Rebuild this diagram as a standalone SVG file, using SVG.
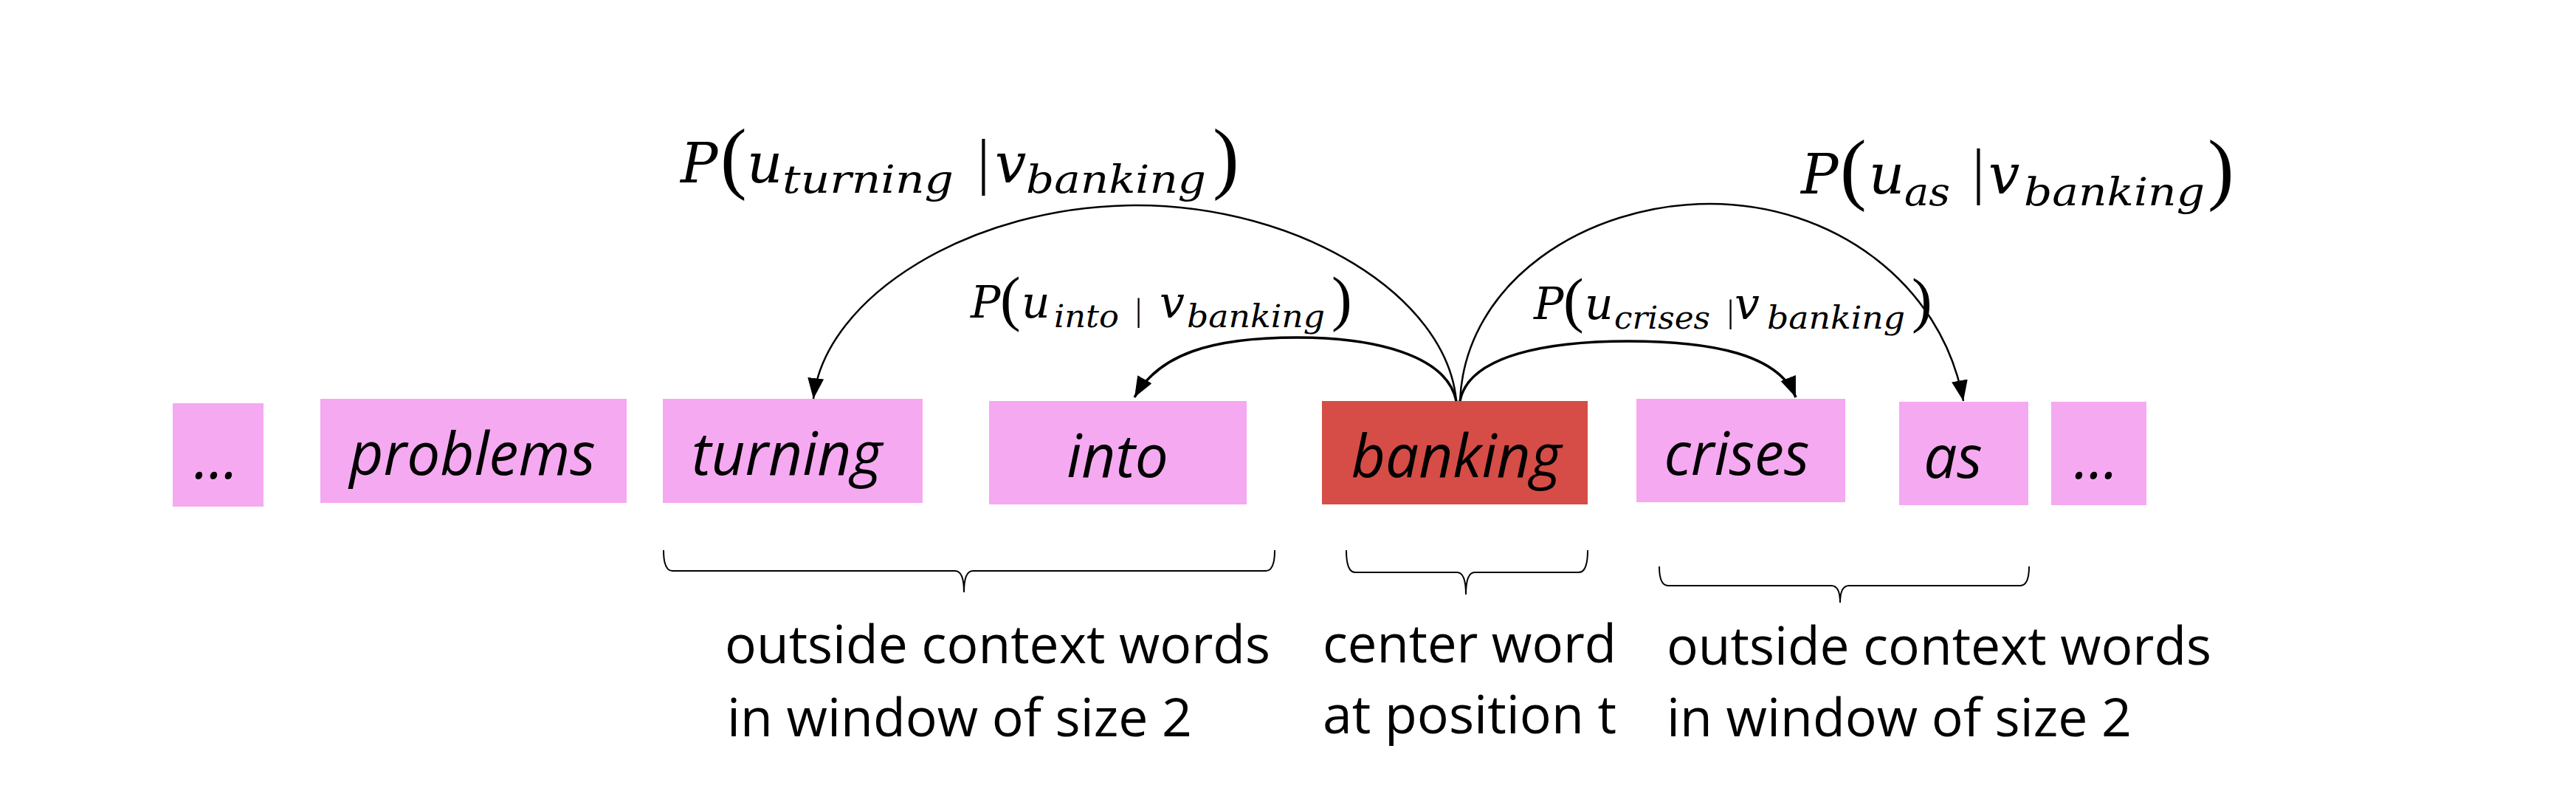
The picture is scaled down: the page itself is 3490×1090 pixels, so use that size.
<svg xmlns="http://www.w3.org/2000/svg" width="3490" height="1090" viewBox="0 0 3490 1090">
<style>
.box{fill:#F5A9F1}
.center{fill:#D54D46}
.w{font-family:"Open Sans","Noto Sans",sans-serif;font-style:italic;font-size:80px;fill:#000;text-anchor:middle}
.t{font-family:"Open Sans","Noto Sans",sans-serif;font-size:71px;fill:#000}
.lab{fill:#000}
.m{font-family:"DejaVu Serif","Liberation Serif",serif;font-style:italic}
.pr{font-family:"Liberation Serif",serif;font-style:normal}
.arc{fill:none;stroke:#000;marker-end:url(#ah)}
.brace{fill:none;stroke:#000;stroke-width:2}
</style>
<defs>
<marker id="ah" markerUnits="userSpaceOnUse" markerWidth="30" markerHeight="24" refX="28" refY="11" orient="auto">
<path d="M0,0 L28,11 L0,22 z" fill="#000"/>
</marker>
</defs>
<rect width="3490" height="1090" fill="#fff"/>

<g id="node-dots-left"><rect class="box" x="234" y="546" width="123" height="140"/><text class="w" x="293" y="648">...</text></g>
<g id="node-problems"><rect class="box" x="434" y="540" width="415" height="141"/><text class="w" x="640" y="643">problems</text></g>
<g id="node-turning"><rect class="box" x="898" y="540" width="352" height="141"/><text class="w" x="1066" y="643">turning</text></g>
<g id="node-into"><rect class="box" x="1340" y="543" width="349" height="140"/><text class="w" x="1514" y="646">into</text></g>
<g id="node-banking"><rect class="center" x="1791" y="543" width="360" height="140"/><text class="w" x="1973" y="646">banking</text></g>
<g id="node-crises"><rect class="box" x="2217" y="540" width="283" height="140"/><text class="w" x="2353" y="643">crises</text></g>
<g id="node-as"><rect class="box" x="2573" y="544" width="175" height="140"/><text class="w" x="2646" y="647">as</text></g>
<g id="node-dots-right"><rect class="box" x="2779" y="544" width="129" height="140"/><text class="w" x="2840" y="648">...</text></g>

<g id="connectors">
<path class="arc" stroke-width="2.5" d="M1973,543 C1960,400 1760,278 1539,278 C1318,278 1118,400 1102,540"/>
<path class="arc" stroke-width="3.5" d="M1973,543 C1960,480 1860,457 1757,457 C1640,457 1570,480 1537,538"/>
<path class="arc" stroke-width="3.5" d="M1978,543 C1990,480 2100,462 2206,462 C2320,462 2410,480 2433,538"/>
<path class="arc" stroke-width="2.5" d="M1978,543 C1985,380 2150,276 2317,276 C2480,276 2630,380 2660,543"/>
</g>

<g id="label-turning">
<text class="lab"><tspan class="m" x="922" y="247" font-size="75">P</tspan><tspan class="pr" x="976" y="249" font-size="107">(</tspan><tspan class="m" x="1012" y="247" font-size="75">u</tspan><tspan class="m" x="1060" y="261" font-size="53" textLength="232" lengthAdjust="spacingAndGlyphs">turning</tspan><tspan class="pr" x="1324" y="247" font-size="84">|</tspan><tspan class="m" x="1348" y="247" font-size="75">v</tspan><tspan class="m" x="1390" y="261" font-size="53" textLength="244" lengthAdjust="spacingAndGlyphs">banking</tspan><tspan class="pr" x="1643" y="249" font-size="107">)</tspan></text>
</g>

<g id="label-into">
<text class="lab"><tspan class="m" x="1315" y="430" font-size="60">P</tspan><tspan class="pr" x="1355" y="432" font-size="83">(</tspan><tspan class="m" x="1384" y="430" font-size="60">u</tspan><tspan class="m" x="1428" y="443" font-size="42" textLength="88" lengthAdjust="spacingAndGlyphs">into</tspan><tspan class="pr" x="1538" y="435" font-size="45">|</tspan><tspan class="m" x="1571" y="430" font-size="60">v</tspan><tspan class="m" x="1608" y="443" font-size="42" textLength="187" lengthAdjust="spacingAndGlyphs">banking</tspan><tspan class="pr" x="1804" y="432" font-size="83">)</tspan></text>
</g>

<g id="label-crises">
<text class="lab"><tspan class="m" x="2078" y="432" font-size="60">P</tspan><tspan class="pr" x="2118" y="434" font-size="83">(</tspan><tspan class="m" x="2147" y="432" font-size="60">u</tspan><tspan class="m" x="2187" y="445" font-size="42" textLength="130" lengthAdjust="spacingAndGlyphs">crises</tspan><tspan class="pr" x="2340" y="437" font-size="45">|</tspan><tspan class="m" x="2350" y="432" font-size="60">v</tspan><tspan class="m" x="2394" y="445" font-size="42" textLength="187" lengthAdjust="spacingAndGlyphs">banking</tspan><tspan class="pr" x="2590" y="434" font-size="83">)</tspan></text>
</g>

<g id="label-as">
<text class="lab"><tspan class="m" x="2440" y="262" font-size="75">P</tspan><tspan class="pr" x="2493" y="264" font-size="107">(</tspan><tspan class="m" x="2532" y="262" font-size="75">u</tspan><tspan class="m" x="2580" y="278" font-size="53" textLength="62" lengthAdjust="spacingAndGlyphs">as</tspan><tspan class="pr" x="2672" y="260" font-size="84">|</tspan><tspan class="m" x="2694" y="262" font-size="75">v</tspan><tspan class="m" x="2742" y="278" font-size="53" textLength="245" lengthAdjust="spacingAndGlyphs">banking</tspan><tspan class="pr" x="2991" y="264" font-size="107">)</tspan></text>
</g>

<g id="braces">
<path class="brace" d="M899,745 Q899,773 911,773 L1294,773 Q1306,773 1306,802 Q1306,773 1318,773 L1715,773 Q1727,773 1727,745"/>
<path class="brace" d="M1824,745 Q1824,775 1836,775 L1974,775 Q1986,775 1986,805 Q1986,775 1998,775 L2139,775 Q2151,775 2151,745"/>
<path class="brace" d="M2248,767 Q2248,793 2260,793 L2481,793 Q2493,793 2493,816 Q2493,793 2505,793 L2737,793 Q2749,793 2749,767"/>
</g>

<g id="captions">
<text class="t" x="982" y="898" textLength="739" lengthAdjust="spacingAndGlyphs">outside context words</text>
<text class="t" x="985" y="997" textLength="630" lengthAdjust="spacingAndGlyphs">in window of size 2</text>
<text class="t" x="1792" y="897" textLength="398" lengthAdjust="spacingAndGlyphs">center word</text>
<text class="t" x="1792" y="993" textLength="398" lengthAdjust="spacingAndGlyphs">at position t</text>
<text class="t" x="2258" y="900" textLength="738" lengthAdjust="spacingAndGlyphs">outside context words</text>
<text class="t" x="2258" y="997" textLength="630" lengthAdjust="spacingAndGlyphs">in window of size 2</text>
</g>
</svg>
